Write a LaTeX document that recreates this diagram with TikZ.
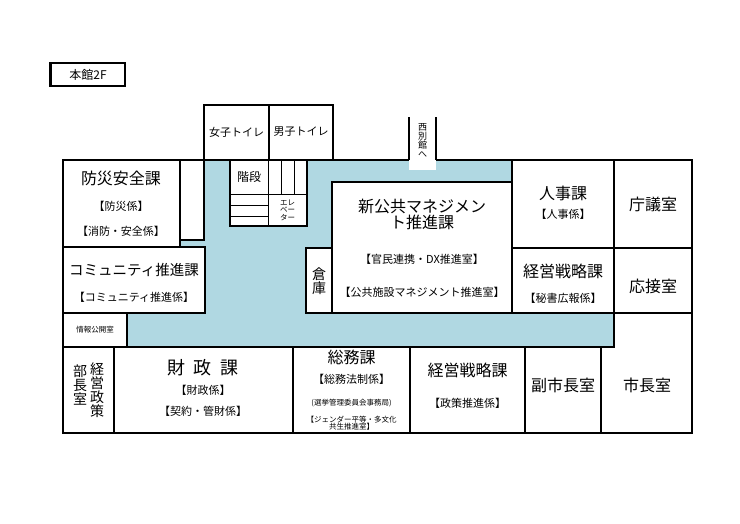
\documentclass[tikz,border=0pt]{standalone}
\usepackage{fontspec}
\setmainfont{Noto Sans CJK JP}
\definecolor{corr}{RGB}{176,216,226}
\tikzset{room/.style={draw=black,line width=1.3pt,fill=white},
 t/.style={inner sep=0pt,align=center,font=\fontsize{#1}{#1}\selectfont},
 t/.default=11}
\begin{document}
\begin{tikzpicture}[x=1pt,y=-1pt]
\useasboundingbox[fill=white] (0,0) rectangle (740,523);
% title
\draw[line width=1.2pt] (50,63) rectangle (125,86);
\draw[line width=2pt] (51,63)--(51,86)--(125,86);
\node[t=12] (title) at (88,74.5) {本館2F};
% corridor
\fill[corr] (180,240)--(204,240)--(204,160)--(512,160)--(512,313)--(614,313)--(614,347)--(127,347)--(127,313)--(205,313)--(205,247)--(180,247)--cycle;
\draw[line width=1.3pt] (204,160)--(409,160) (436,160)--(512,160);
\draw[line width=1.3pt] (127,347)--(614,347)--(614,313);
% west annex
\fill[white] (409,117) rectangle (436,170);
\draw[line width=1.3pt] (409,117)--(409,160) (436,117)--(436,160);
\node[t=9] (west) at (422.5,141) {西\\別\\館\\へ};
% toilets
\draw[room] (204,105) rectangle (269,160);
\draw[room] (269,105) rectangle (333,160);
\node[t=11] (wt) at (236.5,132) {女子トイレ};
\node[t=11] (mt) at (301,132) {男子トイレ};
% stairs
\draw[room] (230,160) rectangle (307,226);
\draw[line width=1pt] (230,194)--(307,194) (268,160)--(268,226) (281,160)--(281,194) (294,160)--(294,194) (230,205)--(268,205) (230,216)--(268,216);
\node[t=12] (st) at (249,177) {階段};
\node[t=7.5] (ev) at (287.5,210) {エレ\\ベー\\ター};
% left rooms
\draw[room] (63,160) rectangle (180,247);
\draw[room] (180,160) rectangle (204,240);
\node[t=16] (bosai) at (121,178) {防災安全課};
\node[t=11] (b1) at (121,206) {【防災係】};
\node[t=11] (b2) at (121,231) {【消防・安全係】};
\draw[room] (63,247) rectangle (205,313);
\node[t=14.5] (comm) at (134,270) {コミュニティ推進課};
\node[t=11] (c1) at (134,297) {【コミュニティ推進係】};
\draw[room] (63,313) rectangle (127,347);
\node[t=7.5] (joho) at (95,330) {情報公開室};
% center
\draw[room] (306,248) rectangle (332,313);
\node[t=14] (soko) at (319,281) {倉\\庫};
\draw[room] (332,182) rectangle (512,313);
\node[t=16] (shin) at (422,214) {新公共マネジメン\\ト推進課};
\node[t=11] (s1) at (422,259) {【官民連携・DX推進室】};
\node[t=11] (s2) at (422,292) {【公共施設マネジメント推進室】};
% right
\draw[room] (512,160) rectangle (614,248);
\node[t=16] (jinji) at (563,193) {人事課};
\node[t=11] (j1) at (563,214) {【人事係】};
\draw[room] (614,160) rectangle (692,248);
\node[t=16] (chogi) at (653,204) {庁議室};
\draw[room] (512,248) rectangle (614,313);
\node[t=16] (keiei1) at (563,271) {経営戦略課};
\node[t=11] (k1) at (563,298) {【秘書広報係】};
\draw[room] (614,248) rectangle (692,313);
\node[t=16] (oset) at (653,286) {応接室};
% bottom row
\draw[room] (63,347) rectangle (114,433);
\node[t=14] (bucho1) at (97,390) {経\\営\\政\\策};
\node[t=14] (bucho2) at (80,385) {部\\長\\室};
\draw[room] (114,347) rectangle (293,433);
\node[t=18] (zaisei) at (203,368) {財\ \ 政\ \ 課};
\node[t=11] (z1) at (203,390) {【財政係】};
\node[t=11] (z2) at (203,411) {【契約・管財係】};
\draw[room] (293,347) rectangle (410,433);
\node[t=16] (somu) at (351.5,357) {総務課};
\node[t=11] (so1) at (351.5,379) {【総務法制係】};
\node[t=7.5] (so2) at (351.5,403) {(選挙管理委員会事務局)};
\node[t=7.5] (so3) at (351.5,423) {【ジェンダー平等・多文化\\共生推進室】};
\draw[room] (410,347) rectangle (525,433);
\node[t=16] (keiei2) at (467.5,370) {経営戦略課};
\node[t=11] (k2) at (467.5,403) {【政策推進係】};
\draw[room] (525,347) rectangle (601,433);
\node[t=16] (fuku) at (563,385) {副市長室};
\draw[room] (601,347)--(614,347)--(614,313)--(692,313)--(692,433)--(601,433)--cycle;
\node[t=16] (shicho) at (647,385) {市長室};
\end{tikzpicture}
\end{document}
